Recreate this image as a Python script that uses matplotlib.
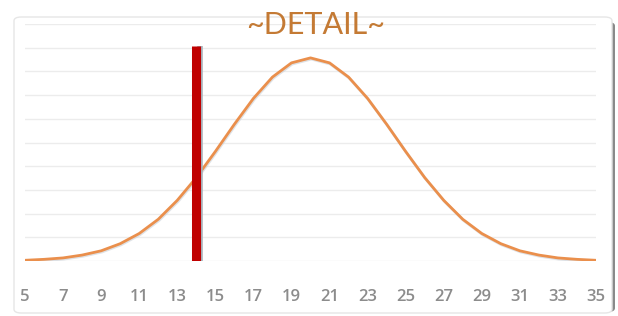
import matplotlib.pyplot as plt
from matplotlib.patches import FancyBboxPatch

# valores
x_vals = list(range(5, 36))
y_vals = [0.03, 0.07, 0.13, 0.25, 0.43, 0.73, 1.16, 1.76, 2.56, 3.52, 4.62,
          5.77, 6.86, 7.76, 8.36, 8.57, 8.36, 7.76, 6.86, 5.77, 4.62, 3.52,
          2.56, 1.76, 1.16, 0.73, 0.43, 0.25, 0.13, 0.07, 0.03]
x_ticks = list(range(5, 36, 2))
marcador_x = 14
marcador_topo = 9.07
titulo = "~DETAIL~"

fig = plt.figure(figsize=(6.18, 3.16), dpi=100)

# moldura arredondada com sombra
W, H = 618, 316
sombra = FancyBboxPatch((16 / W, 4 / H), 599 / W, 290 / H,
                        boxstyle="round,pad=0,rounding_size=0.012",
                        transform=fig.transFigure, facecolor='#8a8a8a',
                        edgecolor='none', zorder=-2)
fig.patches.append(sombra)
moldura = FancyBboxPatch((14 / W, 3 / H), 598 / W, 296 / H,
                         boxstyle="round,pad=0,rounding_size=0.012",
                         transform=fig.transFigure, facecolor='white',
                         edgecolor='#e6e6e6', linewidth=1.0, zorder=-1)
fig.patches.append(moldura)

ax = fig.add_axes([25 / W, 55 / H, 571 / W, 237 / H])
ax.set_zorder(2)
ax.set_facecolor('none')
ax.set_xlim(5, 35)
ax.set_ylim(0, 10)
ax.set_yticks(range(0, 11))
ax.yaxis.grid(True, color='#ececec', linewidth=1.0)
ax.set_axisbelow(True)
for s in ax.spines.values():
    s.set_visible(False)
ax.tick_params(axis='y', left=False, labelleft=False)
ax.tick_params(axis='x', length=0, pad=20, labelsize=12, labelcolor='#8c8c8c')
ax.set_xticks(x_ticks)
ax.set_xticklabels([str(t) for t in x_ticks], fontweight='semibold', family='Open Sans')

# curva com leve sombra
ax.plot([x + 0.04 for x in x_vals], [y - 0.05 for y in y_vals], color='#c9cfd6',
        linewidth=2.0, alpha=0.6, zorder=2)
ax.plot(x_vals, y_vals, color='#ea8f4c', linewidth=2.0, zorder=3)

# barra vermelha com sombra
ax.plot([marcador_x + 0.2, marcador_x + 0.2], [0, marcador_topo], color='#a8b0b8',
        linewidth=4, solid_capstyle='butt', zorder=3)
ax.plot([marcador_x, marcador_x], [0, marcador_topo], color='#c00000',
        linewidth=6.5, solid_capstyle='butt', zorder=4)

fig.text(316 / W, 1 - 25 / H, titulo, ha='center', va='center', fontsize=22,
         color='#c47a34', family='Lato', zorder=5)

fig.savefig('out.png', dpi=100)
